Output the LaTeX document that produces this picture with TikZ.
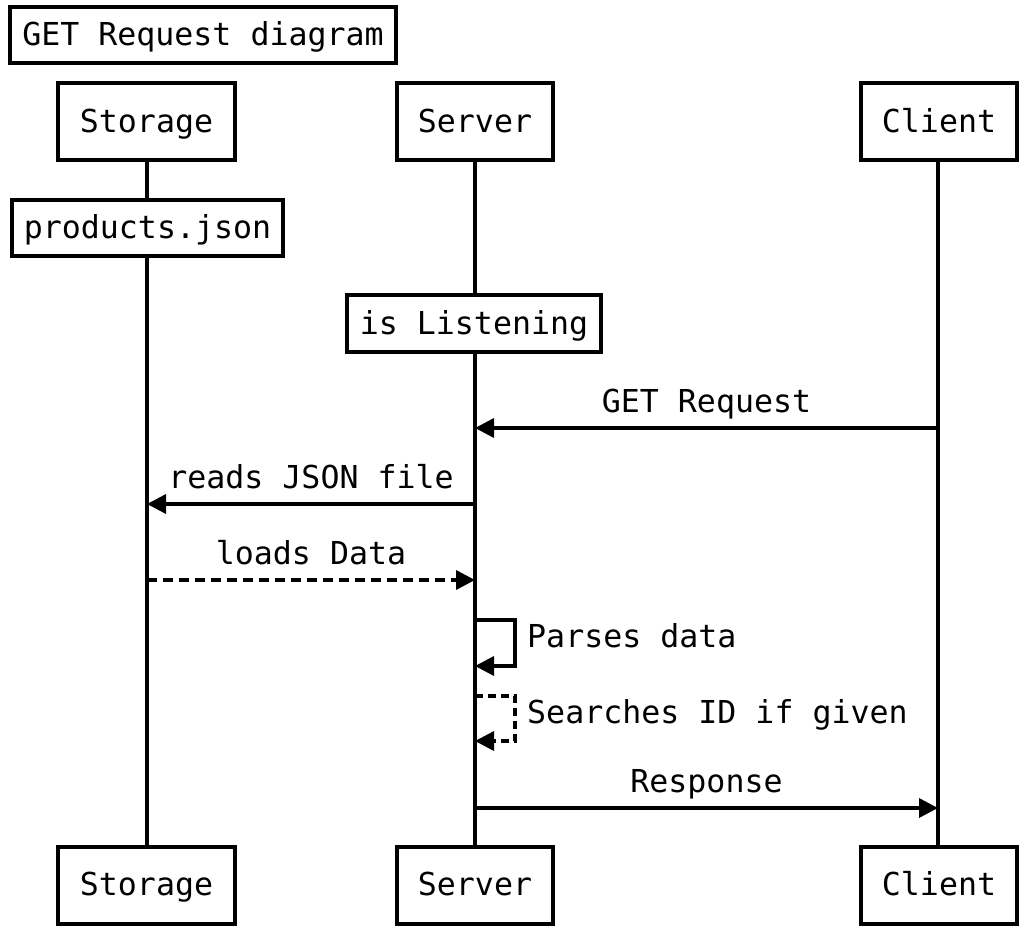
\documentclass[tikz,border=0pt]{standalone}
\usepackage{fontspec}
\setmainfont{DejaVu Sans Mono}
\usetikzlibrary{arrows.meta}
\begin{document}
\begin{tikzpicture}[x=1pt,y=-1pt,
  font=\fontsize{31.6pt}{38pt}\selectfont,
  box/.style={draw,line width=4pt,fill=white,inner sep=0pt,text height=21pt,text depth=0pt,align=center},
  actor/.style={box,minimum height=77pt},
  life/.style={line width=3.5pt},
  msg/.style={line width=3.5pt,-{Triangle[length=19pt,width=19pt]}},
  dmsg/.style={msg,dash pattern=on 10pt off 6pt},
  lbl/.style={anchor=base,inner sep=0pt,yshift=16pt},
  slbl/.style={anchor=base west,inner sep=0pt}]
\useasboundingbox (0,0) rectangle (1034,940);
% lifelines
\coordinate (stT) at (147,160);
\coordinate (stB) at (147,847);
\coordinate (svT) at (475,160);
\coordinate (svB) at (475,847);
\coordinate (clT) at (938,160);
\coordinate (clB) at (938,847);
\draw[life] (stT) -- (stB);
\draw[life] (svT) -- (svB);
\draw[life] (clT) -- (clB);
% title
\node[box,minimum width=386pt,minimum height=56pt] (title) at (203,35) {GET Request diagram};
% actors
\node[actor,minimum width=177pt] (storage) at (146.5,121.5) {Storage};
\node[actor,minimum width=156pt] (server) at (475,121.5) {Server};
\node[actor,minimum width=156pt] (client) at (939,121.5) {Client};
\node[actor,minimum width=177pt] (storage2) at (146.5,885) {Storage};
\node[actor,minimum width=156pt] (server2) at (475,885) {Server};
\node[actor,minimum width=156pt] (client2) at (939,885) {Client};
% notes
\node[box,minimum width=271pt,minimum height=56pt] (products) at (147.5,228) {products.json};
\node[box,minimum width=254pt,minimum height=57pt] (listen) at (474,323.5) {is Listening};
% message points
\coordinate (c1) at (938,428); \coordinate (s1) at (475,428);
\coordinate (s2) at (475,504); \coordinate (t2) at (147,504);
\coordinate (t3) at (147,580); \coordinate (s3) at (475,580);
\coordinate (s4a) at (475,620); \coordinate (s4b) at (475,666);
\coordinate (s5a) at (475,696); \coordinate (s5b) at (475,741);
\coordinate (s6) at (475,808); \coordinate (c6) at (938,808);
% messages
\draw[msg] (c1) -- node[lbl] {GET Request} (s1);
\draw[msg] (s2) -- node[lbl] {reads JSON file} (t2);
\draw[dmsg] (t3) -- node[lbl] {loads Data} (s3);
\draw[msg] (s4a) -- ++(40,0) |- (s4b);
\node[slbl] (parse) at (527,647) {Parses data};
\draw[dmsg,dash pattern=on 8pt off 5pt] (s5a) -- ++(40,0) |- (s5b);
\node[slbl] (search) at (527,723) {Searches ID if given};
\draw[msg] (s6) -- node[lbl] {Response} (c6);
\end{tikzpicture}
\end{document}
